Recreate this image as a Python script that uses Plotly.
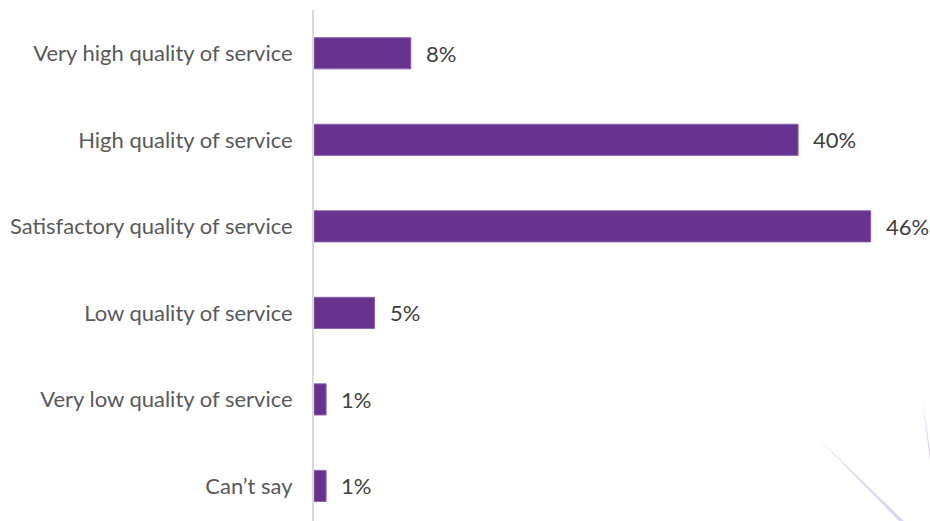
import plotly.graph_objects as go

categories = [
    "Very high quality of service",
    "High quality of service",
    "Satisfactory quality of service",
    "Low quality of service",
    "Very low quality of service",
    "Can\u2019t say",
]
shares = [8, 40, 46, 5, 1, 1]
value_labels = ["8%", "40%", "46%", "5%", "1%", "1%"]

positions = list(range(len(categories)))

BAR = "#67338E"
FONT = "Lato, 'Open Sans', sans-serif"

fig = go.Figure()
fig.add_trace(go.Bar(
    x=shares,
    y=positions,
    orientation="h",
    width=0.36,
    marker=dict(color=BAR, line=dict(color="#8C63B0", width=1)),
    hoverinfo="skip",
))

for p, v, lab in zip(positions, shares, value_labels):
    fig.add_annotation(
        x=v, y=p, text=lab, showarrow=False,
        xanchor="left", yanchor="middle", xshift=13,
        font=dict(family=FONT, size=22, color="#404040"),
    )

fig.update_layout(
    width=930, height=521,
    margin=dict(l=314, r=0, t=10, b=0),
    paper_bgcolor="white", plot_bgcolor="white",
    showlegend=False,
    xaxis=dict(range=[0, 50.9], visible=False, fixedrange=True),
    yaxis=dict(
        range=[5.405, -0.5],
        tickvals=positions, ticktext=categories,
        showgrid=False, zeroline=False,
        showline=True, linecolor="#D9D9D9", linewidth=2,
        ticks="outside", ticklen=15, tickcolor="rgba(0,0,0,0)",
        tickfont=dict(family=FONT, size=22, color="#595959"),
    ),
)

# thin lavender streaks in the lower-right corner, given in pixel positions
def px(x, y):
    return (x - 314) / (930 - 314), 1 - (y - 10) / (521 - 10)

streaks = [
    [(818, 438), (904, 521), (899, 521)],
    [(922, 397), (930, 450), (930, 462)],
]
for tri in streaks:
    pts = [px(x, y) for x, y in tri]
    path = "M {} {} L {} {} L {} {} Z".format(*[c for pt in pts for c in pt])
    fig.add_shape(type="path", xref="paper", yref="paper", path=path,
                  fillcolor="#DDD5EE", line=dict(width=0), layer="below")

fig.write_html("out.html")
